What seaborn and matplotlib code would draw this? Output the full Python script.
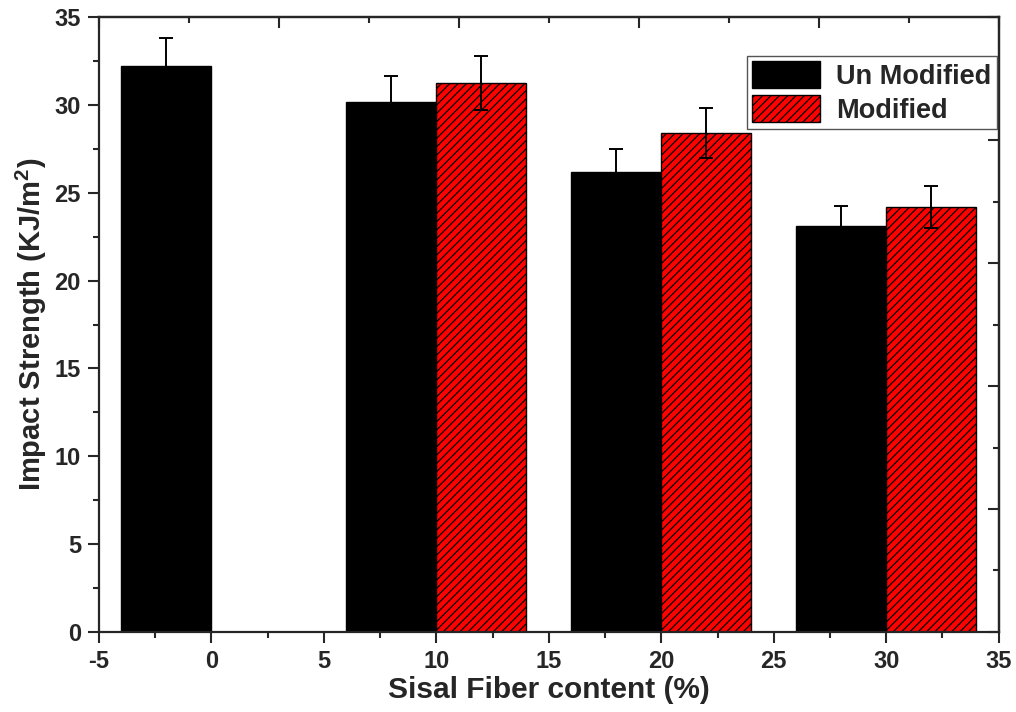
import numpy as np
import pandas as pd
import matplotlib
matplotlib.use("Agg")
import matplotlib.pyplot as plt
import seaborn as sns

# data
fiber_content = [0, 10, 20, 30]
unmodified = [32.2, 30.15, 26.2, 23.1]
unmodified_err = [1.6, 1.5, 1.3, 1.15]
modified_content = [10, 20, 30]
modified = [31.25, 28.4, 24.2]
modified_err = [1.55, 1.4, 1.2]
series_names = ["Un Modified", "Modified"]

df = pd.concat([
    pd.DataFrame({"content": fiber_content, "strength": unmodified, "err": unmodified_err,
                  "type": series_names[0]}),
    pd.DataFrame({"content": modified_content, "strength": modified, "err": modified_err,
                  "type": series_names[1]}),
], ignore_index=True)

sns.set_style("ticks")
plt.rcParams["font.family"] = ["Liberation Sans", "DejaVu Sans"]
plt.rcParams["font.weight"] = "bold"
plt.rcParams["axes.labelweight"] = "bold"
plt.rcParams["mathtext.fontset"] = "custom"
plt.rcParams["mathtext.bf"] = "Liberation Sans:bold"
plt.rcParams["mathtext.rm"] = "Liberation Sans:bold"
plt.rcParams["hatch.linewidth"] = 0.9
plt.rcParams["hatch.color"] = "black"

fig, ax = plt.subplots(figsize=(10.16, 7.12), dpi=100)
fig.subplots_adjust(left=0.0974, right=0.983, top=0.976, bottom=0.1124)

sns.barplot(data=df, x="content", y="strength", hue="type", hue_order=series_names,
            palette={"Un Modified": "black", "Modified": "red"}, native_scale=True,
            width=0.8, saturation=1, errorbar=None, edgecolor="black", linewidth=1,
            legend=False, ax=ax)

bar_containers = list(ax.containers)
for cont, name in zip(bar_containers, series_names):
    sub = df[df["type"] == name]
    if name == "Modified":
        for p in cont.patches:
            p.set_hatch("////")
    xs = [p.get_x() + p.get_width() / 2 for p in cont.patches]
    ax.errorbar(xs, sub["strength"].values, yerr=sub["err"].values, fmt="none",
                ecolor="black", elinewidth=1.4, capsize=5, capthick=1.4)

ax.legend(bar_containers, series_names, loc="upper right", bbox_to_anchor=(0.998, 0.937),
          borderaxespad=0, fancybox=False, edgecolor="#555555", framealpha=1,
          fontsize=19.5, handlelength=2.5, handleheight=1.15, labelspacing=0.2,
          borderpad=0.2, handletextpad=0.6)

ax.set_xlim(-5, 35)
ax.set_ylim(0, 35)
ax.set_xticks(np.arange(-5, 36, 5))
ax.set_xticks(np.arange(-2.5, 35, 5), minor=True)
ax.set_yticks(np.arange(0, 36, 5))
ax.set_yticks(np.arange(2.5, 35, 5), minor=True)
ax.set_xticklabels([f"{v:g}" for v in np.arange(-5, 36, 5)])
ax.tick_params(which="major", direction="out", length=8, width=1.5, labelsize=17, pad=5)
ax.tick_params(which="minor", direction="out", length=4, width=1.5)
ax.tick_params(top=False, right=False, which="both")
for sp in ax.spines.values():
    sp.set_linewidth(1.6)
    sp.set_visible(True)

top = ax.secondary_xaxis("top")
top.set_xticks(np.arange(-5, 36, 8))
top.set_xticks(np.arange(-1, 36, 8), minor=True)
top.tick_params(which="major", direction="in", length=8, width=1.5, labeltop=False)
top.tick_params(which="minor", direction="in", length=4, width=1.5)
top.spines["top"].set_linewidth(1.6)

right = ax.secondary_yaxis("right")
right.set_yticks(np.arange(0, 36, 7))
right.set_yticks(np.arange(3.5, 35, 7), minor=True)
right.tick_params(which="major", direction="in", length=8, width=1.5, labelright=False)
right.tick_params(which="minor", direction="in", length=4, width=1.5)
right.spines["right"].set_linewidth(1.6)

ax.set_xlabel("Sisal Fiber content (%)", fontsize=21.5, labelpad=2)
ax.set_ylabel("Impact Strength (KJ/m$^{\\mathbf{2}}$)", fontsize=21, labelpad=4)

fig.savefig("out.png", dpi=100)
